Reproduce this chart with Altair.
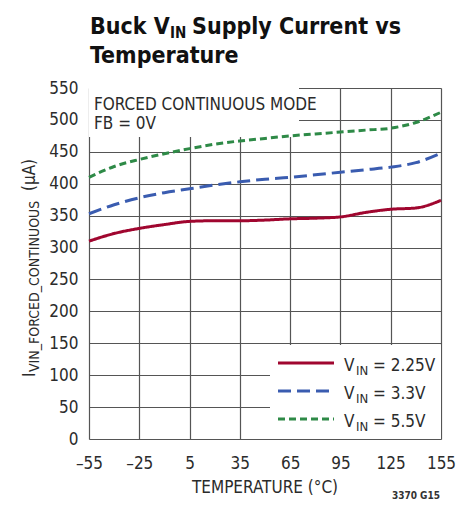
import altair as alt
import pandas as pd

temps = [-55, -40, -25, -10, 5, 20, 35, 50, 65, 80, 95, 110, 125, 140, 155]
i_225 = [310, 322, 330, 336, 341, 342, 342, 343, 345, 346, 348, 355, 360, 362, 374]
i_33 = [353, 367, 378, 386, 392, 398, 403, 407, 410, 414, 418, 422, 426, 433, 448]
i_55 = [410, 427, 438, 447, 455, 462, 467, 471, 475, 478, 481, 484, 487, 496, 512]
series_names = ["2.25V", "3.3V", "5.5V"]
series_colors = ["#a0062f", "#3a5cb0", "#2e8a47"]
series_dashes = [[1, 0], [13, 6], [7, 4]]
x_ticks = [-55, -25, 5, 35, 65, 95, 125, 155]
y_ticks = list(range(0, 551, 50))

rows = []
for name, vals in zip(series_names, [i_225, i_33, i_55]):
    for t, v in zip(temps, vals):
        rows.append({"temp": t, "current": v, "series": name})
df = pd.DataFrame(rows)

FONT = "Liberation Sans Narrow, DejaVu Sans Condensed, Roboto"
TXT = "#2b2b2b"

x_enc = alt.X("temp:Q", scale=alt.Scale(domain=[-55, 155], nice=False),
              axis=alt.Axis(values=x_ticks, title=None, ticks=False, domain=False,
                            labelPadding=16, labelFontSize=17, labelFont=FONT,
                            labelColor=TXT, gridColor="#555555", gridWidth=1.2,
                            labelExpr="datum.value < 0 ? '\u2013' + abs(datum.value) : '' + datum.value",
                            labelFlush=False))
y_enc = alt.Y("current:Q", scale=alt.Scale(domain=[0, 550], nice=False),
              axis=alt.Axis(values=y_ticks, title=None, ticks=False, domain=False,
                            labelPadding=11, labelFontSize=17, labelFont=FONT,
                            labelColor=TXT, gridColor="#555555", gridWidth=1.2))

lines = alt.Chart(df).mark_line(strokeWidth=3, interpolate="monotone").encode(
    x=x_enc, y=y_enc,
    color=alt.Color("series:N", scale=alt.Scale(domain=series_names, range=series_colors), legend=None),
    strokeDash=alt.StrokeDash("series:N", scale=alt.Scale(domain=series_names, range=series_dashes), legend=None),
)

base = alt.Chart(pd.DataFrame({"a": [0]}))

# white boxes behind annotation and legend
box1 = base.mark_rect(color="white").encode(x=alt.value(0), x2=alt.value(210), y=alt.value(0), y2=alt.value(49))
box2 = base.mark_rect(color="white").encode(x=alt.value(181), x2=alt.value(352), y=alt.value(257), y2=alt.value(351))

def txt(s, x, y, size=17, bold=False, align="left", angle=0, color=TXT):
    return base.mark_text(text=s, font=FONT, fontSize=size, fontWeight="bold" if bold else "normal",
                          align=align, baseline="alphabetic", angle=angle, color=color).encode(
        x=alt.value(x), y=alt.value(y))

layers = [box1, box2, lines]
layers += [txt("FORCED CONTINUOUS MODE", 5, 22), txt("FB = 0V", 5, 41)]

# legend
leg_y = [275, 303, 331]
for name, col, dash, ly in zip(series_names, series_colors, series_dashes, leg_y):
    layers.append(base.mark_rule(color=col, strokeWidth=3, strokeDash=dash).encode(
        x=alt.value(189), x2=alt.value(245), y=alt.value(ly)))
    layers.append(txt("V", 255, ly + 8))
    layers.append(txt("IN", 267, ly + 12, size=13))
    layers.append(txt("= " + name, 284, ly + 8))

# title
TC = "#111111"
layers += [
    txt("Buck V", 1, -54, size=23, bold=True, color=TC),
    txt("IN", 81, -50, size=15, bold=True, color=TC),
    txt("Supply Current vs", 103, -54, size=23, bold=True, color=TC),
    txt("Temperature", 1, -25, size=23, bold=True, color=TC),
]

# axis titles
layers += [
    txt("TEMPERATURE (°C)", 176, 405, size=17, align="center"),
    txt("I", -54, 289, size=17, angle=270),
    txt("VIN_FORCED_CONTINUOUS", -50, 284, size=14, angle=270),
    txt("(µA)", -54, 87, size=17, align="center", angle=270),
    txt("3370 G15", 351, 411, size=10, bold=True, align="right", color="#333333"),
]

chart = alt.layer(*layers).properties(
    width=352, height=351,
    padding={"left": 81, "top": 80, "right": 23, "bottom": 64},
    autosize=alt.AutoSizeParams(type="none"),
).configure_view(stroke="black", strokeWidth=2).configure(background="white")

chart.save("out.html", embed_options={"renderer": "svg", "actions": False})
